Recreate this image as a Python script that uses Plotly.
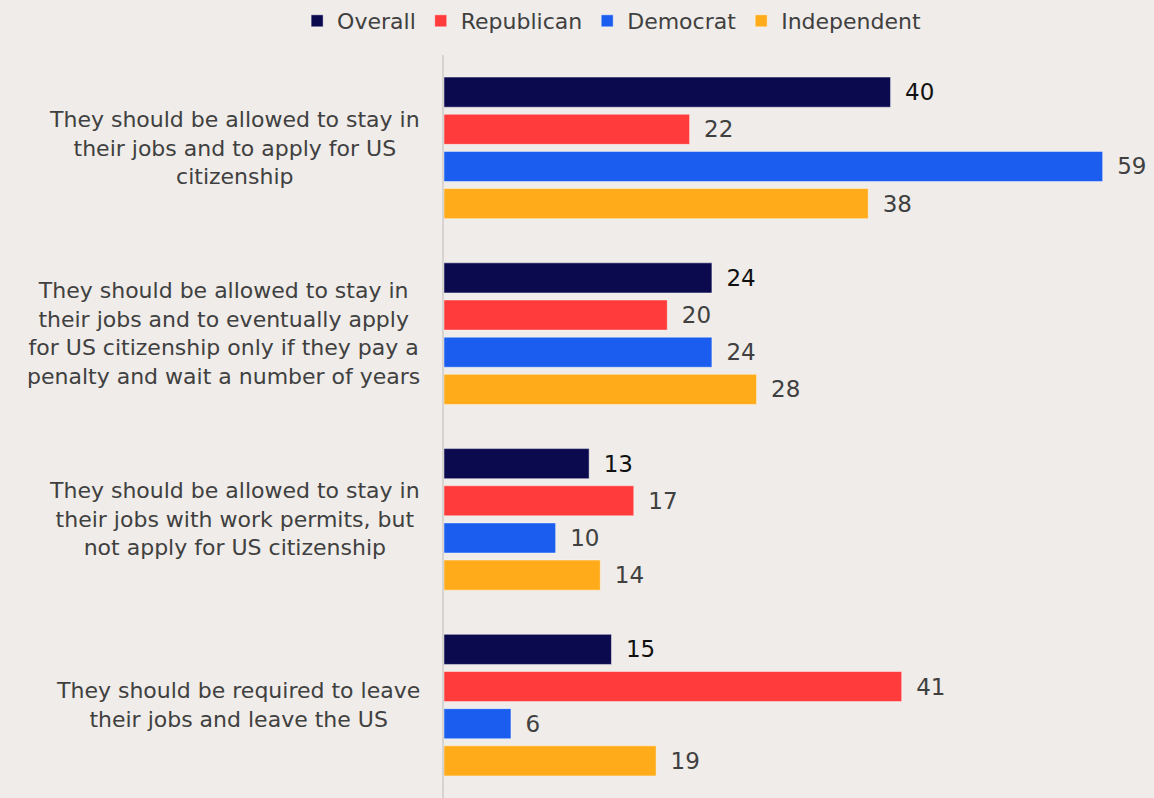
import plotly.graph_objects as go

# --- data ---
categories = [
    "They should be allowed to stay in<br>their jobs and to apply for US<br>citizenship",
    "They should be allowed to stay in<br>their jobs and to eventually apply<br>for US citizenship only if they pay a<br>penalty and wait a number of years",
    "They should be allowed to stay in<br>their jobs with work permits, but<br>not apply for US citizenship",
    "They should be required to leave<br>their jobs and leave the US",
]
series_names = ["Overall", "Republican", "Democrat", "Independent"]
overall = [40, 24, 13, 15]
republican = [22, 20, 17, 41]
democrat = [59, 24, 10, 6]
independent = [38, 28, 14, 19]

# --- style ---
COLORS = {"Overall": "#0B0A4F", "Republican": "#FF3B3B",
          "Democrat": "#1B5EEF", "Independent": "#FFAB1A"}
TXT = {"Overall": "#111111", "Republican": "#404040",
       "Democrat": "#404040", "Independent": "#404040"}
BG = "#EFECE9"
FONT = "DejaVu Sans"

fig = go.Figure()
for name, vals in zip(series_names, [overall, republican, democrat, independent]):
    fig.add_trace(go.Bar(
        name=name, y=categories, x=vals, orientation="h",
        marker=dict(color=COLORS[name], line=dict(color="rgba(255,255,255,0.45)", width=1)),
        text=vals, texttemplate="\u2002%{x}", textposition="outside",
        textfont=dict(size=23, color=TXT[name], family=FONT),
        cliponaxis=False, hoverinfo="x+name",
    ))

# centred category labels (plotly tick labels are right-aligned per line)
for cat in categories:
    fig.add_annotation(x=-0.031, xref="paper", y=cat, yref="y", text=cat,
                       showarrow=False, xanchor="right", align="center",
                       font=dict(size=22, color="#404040", family=FONT))

fig.update_layout(
    width=1154, height=798,
    margin=dict(l=444, r=0, t=55, b=0),
    paper_bgcolor=BG, plot_bgcolor=BG,
    barmode="group", bargap=0.2, bargroupgap=0.19,
    font=dict(family=FONT, size=22, color="#404040"),
    legend=dict(orientation="h", x=0.53, xref="container", xanchor="center",
                y=1.0, yref="container", yanchor="top",
                font=dict(size=22, color="#404040"), itemwidth=30,
                bgcolor="rgba(0,0,0,0)"),
    xaxis=dict(range=[0, 63.6], visible=False),
    yaxis=dict(autorange="reversed", showticklabels=False, showgrid=False,
               showline=True, linecolor="#D6D3D0", linewidth=2, ticks=""),
    showlegend=True,
)

fig.write_html("out.html", config={"displayModeBar": False},
               post_script="document.body.style.margin='0';")
